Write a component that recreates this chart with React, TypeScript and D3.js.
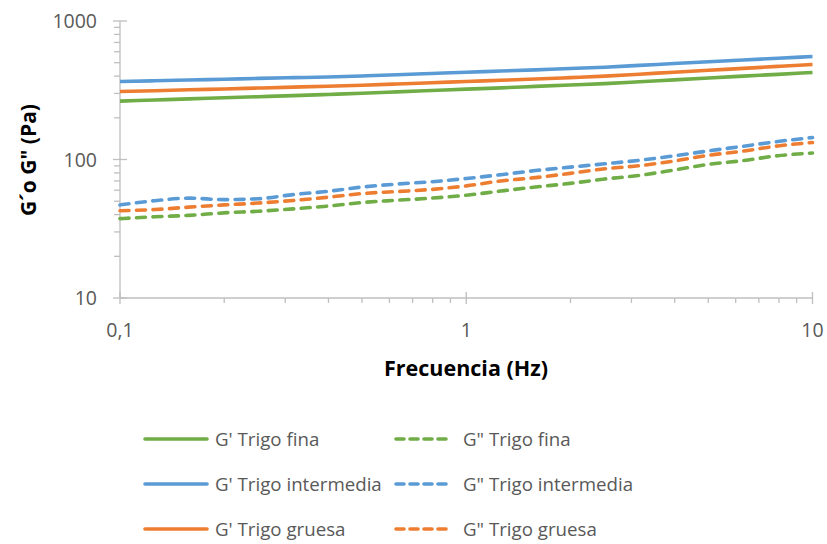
import React from "react";
import * as d3 from "d3";

const freqs = [0.1, 0.126, 0.158, 0.2, 0.251, 0.316, 0.398, 0.501, 0.631, 0.794, 1, 1.259, 1.585, 1.995, 2.512, 3.162, 3.981, 5.012, 6.31, 7.943, 10];

const gpFina = [264, 269, 274, 279, 284, 289, 295, 301, 308, 315, 322, 329, 337, 345, 353, 364, 376, 388, 400, 412, 425];
const gpIntermedia = [366, 370, 375, 380, 385, 390, 394, 401, 409, 418, 427, 435, 444, 454, 464, 478, 493, 508, 523, 538, 554];
const gpGruesa = [310, 314, 319, 323, 328, 333, 338, 344, 351, 358, 366, 373, 381, 390, 400, 413, 427, 441, 455, 470, 485];

const gppFina = [37.4, 38.6, 39.5, 41.2, 42.3, 44.0, 46.1, 48.9, 50.8, 52.6, 55.2, 59.2, 63.3, 67.2, 72.3, 76.8, 84.0, 92.3, 98.2, 106.5, 111.4];
const gppIntermedia = [47.0, 50.4, 52.6, 51.3, 52.1, 55.8, 58.9, 63.3, 66.5, 69.1, 72.9, 77.7, 83.2, 88.1, 93.1, 98.7, 106.3, 115.4, 124.7, 134.9, 144.2];
const gppGruesa = [42.7, 43.5, 45.3, 47.0, 48.5, 50.6, 53.4, 56.8, 58.7, 60.8, 64.5, 70.0, 74.0, 79.4, 85.7, 90.2, 97.5, 107.2, 115.0, 125.3, 132.6];

const xTicks = [0.1, 1, 10];
const xTickLabels = ["0,1", "1", "10"];
const yTicks = [10, 100, 1000];
const yTickLabels = ["10", "100", "1000"];

const GREEN = "#70AD47";
const BLUE = "#5B9BD5";
const ORANGE = "#ED7D31";

const series = [
  { name: "G' Trigo fina", values: gpFina, color: GREEN, dashed: false },
  { name: "G\" Trigo fina", values: gppFina, color: GREEN, dashed: true },
  { name: "G' Trigo intermedia", values: gpIntermedia, color: BLUE, dashed: false },
  { name: "G\" Trigo intermedia", values: gppIntermedia, color: BLUE, dashed: true },
  { name: "G' Trigo gruesa", values: gpGruesa, color: ORANGE, dashed: false },
  { name: "G\" Trigo gruesa", values: gppGruesa, color: ORANGE, dashed: true },
];

const FONT = "'Open Sans', 'Liberation Sans', sans-serif";

export default function App() {
  const W = 827;
  const H = 544;
  const x = d3.scaleLog().domain([0.1, 10]).range([120, 812.5]);
  const y = d3.scaleLog().domain([10, 1000]).range([298, 21]);

  const line = d3
    .line<number>()
    .x((_, i) => x(freqs[i]))
    .y((v) => y(v))
    .curve(d3.curveMonotoneX);

  const minorX: number[] = [];
  for (const dec of [0.1, 1]) for (let k = 2; k <= 9; k++) minorX.push(dec * k);
  const minorY: number[] = [];
  for (const dec of [10, 100]) for (let k = 2; k <= 9; k++) minorY.push(dec * k);

  const axisColor = "#BFBFBF";
  const textColor = "#595959";

  const legendRows = [439, 484, 529];
  const legendCols = [{ x0: 145, x1: 207, tx: 215 }, { x0: 396, x1: 451, tx: 463 }];

  return (
    <svg width={W} height={H} style={{ position: "absolute", left: 0, top: 0, background: "#fff" }} fontFamily={FONT}>
      <rect width={W} height={H} fill="#fff" />
      {/* axes */}
      <line x1={x(0.1)} x2={x(10)} y1={y(10)} y2={y(10)} stroke={axisColor} strokeWidth={1.3} />
      <line x1={x(0.1)} x2={x(0.1)} y1={y(10)} y2={y(1000)} stroke={axisColor} strokeWidth={1.3} />
      {minorX.map((v) => (
        <line key={"mx" + v} x1={x(v)} x2={x(v)} y1={y(10)} y2={y(10) + 5} stroke={axisColor} strokeWidth={1.3} />
      ))}
      {xTicks.map((v) => (
        <line key={"Mx" + v} x1={x(v)} x2={x(v)} y1={y(10) - 6} y2={y(10) + 6} stroke={axisColor} strokeWidth={1.3} />
      ))}
      {minorY.map((v) => (
        <line key={"my" + v} x1={x(0.1) - 6} x2={x(0.1)} y1={y(v)} y2={y(v)} stroke={axisColor} strokeWidth={1.3} />
      ))}
      {yTicks.map((v) => (
        <line key={"My" + v} x1={x(0.1) - 7} x2={x(0.1) + 7} y1={y(v)} y2={y(v)} stroke={axisColor} strokeWidth={1.3} />
      ))}
      {xTicks.map((v, i) => (
        <text key={"xl" + v} x={x(v)} y={337} textAnchor="middle" fontSize={19.5} fill={textColor}>
          {xTickLabels[i]}
        </text>
      ))}
      {yTicks.map((v, i) => (
        <text key={"yl" + v} x={97} y={y(v) + 7} textAnchor="end" fontSize={19.5} fill={textColor}>
          {yTickLabels[i]}
        </text>
      ))}
      {/* series */}
      {series.map((s) => (
        <path
          key={s.name}
          d={line(s.values) || ""}
          fill="none"
          stroke={s.color}
          strokeWidth={3.6}
          strokeDasharray={s.dashed ? "9 7.5" : undefined}
          strokeLinecap={s.dashed ? "round" : "butt"}
        />
      ))}
      {/* axis titles */}
      <text x={466} y={376} textAnchor="middle" fontSize={21.5} fontWeight="bold" fill="#000">
        Frecuencia (Hz)
      </text>
      <text transform="translate(36,160) rotate(-90)" textAnchor="middle" fontSize={21} fontWeight="bold" fill="#000">
        G´o G" (Pa)
      </text>
      {/* legend */}
      {series.map((s, i) => {
        const row = Math.floor(i / 2);
        const col = legendCols[i % 2];
        const cy = legendRows[row];
        return (
          <g key={"lg" + s.name}>
            <line
              x1={col.x0}
              x2={col.x1}
              y1={cy}
              y2={cy}
              stroke={s.color}
              strokeWidth={3.6}
              strokeDasharray={s.dashed ? "8 6" : undefined}
              strokeLinecap="round"
            />
            <text x={col.tx} y={cy + 6.5} fontSize={18.7} fill={textColor}>
              {s.name}
            </text>
          </g>
        );
      })}
    </svg>
  );
}
